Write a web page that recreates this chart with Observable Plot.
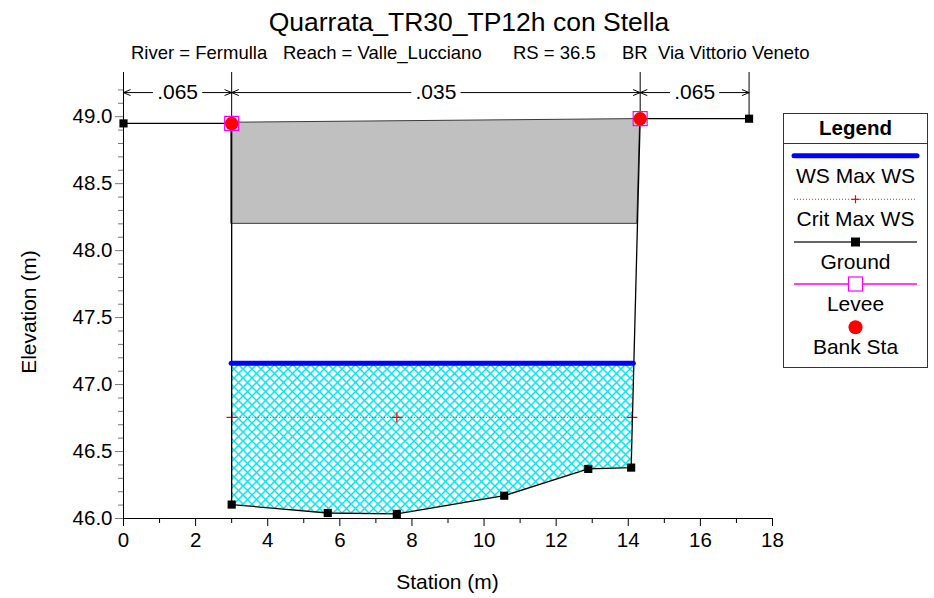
<!DOCTYPE html>
<html>
<head>
<meta charset="utf-8">
<script src="https://cdn.jsdelivr.net/npm/d3@7"></script>
<script src="https://cdn.jsdelivr.net/npm/@observablehq/plot@0.6"></script>
<style>
  html, body { margin: 0; padding: 0; background: #fff; }
  #chart { position: relative; width: 934px; height: 598px; }
</style>
</head>
<body>
<div id="chart"></div>
<script>
// ---------- data ----------
const titleText = "Quarrata_TR30_TP12h con Stella";
const subtitleParts = ["River = Fermulla", "Reach = Valle_Lucciano", "RS = 36.5", "BR  Via Vittorio Veneto"];

const groundSta  = [0, 3.0, 3.0, 5.665, 7.58, 10.56, 12.89, 14.08, 14.33, 17.35];
const groundElev = [48.95, 48.95, 46.104, 46.041, 46.034, 46.17, 46.37, 46.38, 48.985, 48.985];

const deckSta  = [3.0, 14.25, 14.33];
const deckHigh = [48.955, 48.982, 48.985];
const deckLow  = [48.2, 48.2, 48.985];

const wsMax = 47.16;
const critMax = 46.755;
const critMarkSta = [3.0, 7.58, 14.11];

const leveeSta  = [3.0, 14.33];
const leveeElev = [48.95, 48.985];
const bankSta   = [3.0, 14.33];
const bankElev  = [48.95, 48.985];

const nBreaks = [0, 3.0, 14.33, 17.35];
const nValues = [".065", ".035", ".065"];

const xTicks = [0, 2, 4, 6, 8, 10, 12, 14, 16, 18];
const xMinor = [1, 3, 5, 7, 9, 11, 13, 15, 17];
const yTicks = [46.0, 46.5, 47.0, 47.5, 48.0, 48.5, 49.0];

const legendItems = ["WS Max WS", "Crit Max WS", "Ground", "Levee", "Bank Sta"];

// ---------- derived tables ----------
const xDomain = [0, 18];
const yDomain = [46, 49.33];
const yMinor = d3.range(46.1, 49.3, 0.1).filter(v => Math.abs(v * 2 - Math.round(v * 2)) > 1e-6);

const ground = groundSta.map((x, i) => ({x, y: groundElev[i]}));
const deck = deckSta.map((x, i) => ({x, high: deckHigh[i], low: deckLow[i]}));

// where a horizontal level meets the right channel wall
function rightEdge(level) {
  for (let i = 2; i < ground.length - 1; i++) {
    const a = ground[i], b = ground[i + 1];
    if (a.y <= level && b.y >= level) return a.x + (b.x - a.x) * (level - a.y) / (b.y - a.y);
  }
  return ground[ground.length - 1].x;
}
const wsLeft = groundSta[2];
const wsRight = rightEdge(wsMax);
const critRight = rightEdge(critMax);
const water = ground.slice(2).filter(p => p.x < wsRight && p.y < wsMax).concat([{x: wsRight, y: wsMax}]);

const zones = nValues.map((n, i) => ({a: nBreaks[i], b: nBreaks[i + 1], c: (nBreaks[i] + nBreaks[i + 1]) / 2, n}));
const nY = yDomain[1] - 0.15;
const breakRows = nBreaks.slice(1).map(x => {
  const g = ground.filter(p => Math.abs(p.x - x) < 1e-6).map(p => p.y);
  return {x, y1: d3.max(g), y2: yDomain[1]};
});

const FONT = "'Liberation Sans', Arial, Helvetica, sans-serif";

const chart = Plot.plot({
  width: 934,
  height: 598,
  marginLeft: 123,
  marginRight: 162,
  marginTop: 72,
  marginBottom: 80,
  x: {domain: xDomain},
  y: {domain: yDomain},
  style: {fontFamily: FONT, fontSize: "20px", background: "white", color: "#000", overflow: "visible"},
  marks: [
    // bridge deck
    Plot.areaY(deck, {x: "x", y1: "low", y2: "high", fill: "#c0c0c0", stroke: "#3a3a3a", strokeWidth: 1}),
    // water (cross hatch)
    Plot.areaY(water, {x: "x", y1: "y", y2: wsMax, fill: "url(#xhatch)"}),
    // n-value separators and arrows
    Plot.ruleX(breakRows, {x: "x", y1: "y1", y2: "y2", stroke: "#000", strokeWidth: 1}),
    Plot.arrow(zones, {x1: "c", x2: "a", y1: nY, y2: nY, insetStart: 25, headLength: 11, headAngle: 46, stroke: "#000", strokeWidth: 1}),
    Plot.arrow(zones, {x1: "c", x2: "b", y1: nY, y2: nY, insetStart: 25, headLength: 11, headAngle: 46, stroke: "#000", strokeWidth: 1}),
    Plot.text(zones, {x: "c", y: nY, text: "n", fontSize: 21, fill: "#000"}),
    // axes
    Plot.ruleX([xDomain[0]], {stroke: "#000", strokeWidth: 1}),
    Plot.ruleY([yDomain[0]], {stroke: "#000", strokeWidth: 1}),
    Plot.axisX(xTicks, {tickSize: 8, tickPadding: 6, fontSize: 20.5, stroke: "#000", label: null}),
    Plot.axisX(xMinor, {tickSize: 5, tickFormat: () => "", stroke: "#000", label: null}),
    Plot.axisY(yTicks, {tickSize: 8, tickPadding: 3, fontSize: 20.5, tickFormat: d3.format(".1f"), stroke: "#777", label: null}),
    Plot.axisY(yMinor, {tickSize: 5, tickFormat: () => "", stroke: "#777", label: null}),
    // crit WS
    Plot.ruleY([critMax], {x1: wsLeft, x2: critRight, stroke: "#ff2020", strokeWidth: 1, strokeDasharray: "1,2"}),
    Plot.dot(critMarkSta, {x: d => d, y: critMax, symbol: "plus", r: 3.4, stroke: "#ff0000", strokeWidth: 1.2}),
    // ground
    Plot.line(ground, {x: "x", y: "y", stroke: "#000", strokeWidth: 1.3}),
    // WS
    Plot.ruleY([wsMax], {x1: wsLeft, x2: wsRight, stroke: "#0000ff", strokeWidth: 5, strokeLinecap: "round"}),
    Plot.dot(ground, {x: "x", y: "y", symbol: "square", r: 4.6, fill: "#000"}),
    // levee and bank stations
    Plot.dot(leveeSta, {x: d => d, y: (d, i) => leveeElev[i], symbol: "square", r: 7.9, stroke: "#ff00ff", fill: "none", strokeWidth: 1.2}),
    Plot.dot(bankSta, {x: d => d, y: (d, i) => bankElev[i], r: 6.7, fill: "#ff0000"})
  ]
});

// hatch pattern
const svg = d3.select(chart);
const defs = svg.insert("defs", ":first-child");
const P = 9;
const pat = defs.append("pattern").attr("id", "xhatch").attr("patternUnits", "userSpaceOnUse")
  .attr("width", P).attr("height", P);
pat.append("path").attr("d", `M0,0L${P},${P}M${P},0L0,${P}`)
  .attr("stroke", "#00e8f0").attr("stroke-width", 1.5).attr("fill", "none");

// titles and axis labels
const txt = (x, y, s, size, opts = {}) => svg.append("text")
  .attr("x", x).attr("y", y).attr("font-family", FONT).attr("font-size", size)
  .attr("text-anchor", opts.anchor || "middle").attr("font-weight", opts.weight || "normal")
  .attr("fill", "#000").attr("transform", opts.transform || null).text(s);

txt(469, 31, titleText, 26.5);
const subX = [131, 283, 513, 622];
subtitleParts.forEach((s, i) => txt(subX[i], 59, s, 18.5, {anchor: "start"}).style("white-space", "pre"));
txt(0, 0, "Elevation (m)", 21, {transform: "translate(36,312) rotate(-90)"});
txt(447.5, 589, "Station (m)", 21);

// legend
const L = svg.append("g");
L.append("rect").attr("x", 783.5).attr("y", 113.5).attr("width", 144).attr("height", 254)
  .attr("fill", "#fff").attr("stroke", "#333").attr("stroke-width", 1);
L.append("line").attr("x1", 783.5).attr("x2", 927.5).attr("y1", 143.5).attr("y2", 143.5).attr("stroke", "#333");
txt(855.5, 134.5, "Legend", 20.5, {weight: "bold"});
const cx = 855.5, lx1 = 794, lx2 = 917;
const symY = [155.7, 199.3, 242, 284, 327.3];
const labY = [182.5, 226, 269, 310.5, 353.5];
L.append("line").attr("x1", lx1).attr("x2", lx2).attr("y1", symY[0]).attr("y2", symY[0])
  .attr("stroke", "#0000ff").attr("stroke-width", 5).attr("stroke-linecap", "round");
L.append("line").attr("x1", lx1).attr("x2", lx2).attr("y1", symY[1]).attr("y2", symY[1])
  .attr("stroke", "#ff2020").attr("stroke-width", 1).attr("stroke-dasharray", "1,2");
L.append("path").attr("d", `M${cx - 4},${symY[1]}h8M${cx},${symY[1] - 4}v8`).attr("stroke", "#ff0000").attr("stroke-width", 1.2);
L.append("line").attr("x1", lx1).attr("x2", lx2).attr("y1", symY[2]).attr("y2", symY[2])
  .attr("stroke", "#333").attr("stroke-width", 1.3);
L.append("rect").attr("x", cx - 4.5).attr("y", symY[2] - 4.5).attr("width", 9).attr("height", 9).attr("fill", "#000");
L.append("line").attr("x1", lx1).attr("x2", lx2).attr("y1", symY[3]).attr("y2", symY[3])
  .attr("stroke", "#ff00ff").attr("stroke-width", 1.3);
L.append("rect").attr("x", cx - 7).attr("y", symY[3] - 7).attr("width", 14).attr("height", 14)
  .attr("fill", "#fff").attr("stroke", "#ff00ff").attr("stroke-width", 1.2);
L.append("circle").attr("cx", cx).attr("cy", symY[4]).attr("r", 7).attr("fill", "#ff0000");
legendItems.forEach((s, i) => txt(cx, labY[i], s, 21));

document.getElementById("chart").appendChild(chart);
</script>
</body>
</html>
